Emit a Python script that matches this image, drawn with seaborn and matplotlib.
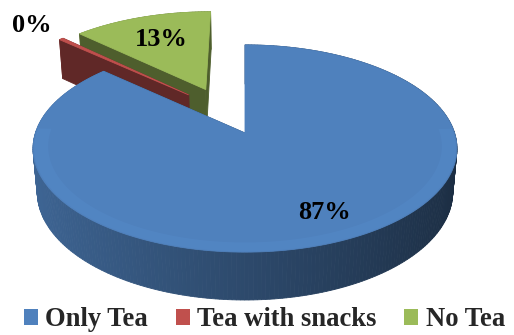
import numpy as np
import matplotlib
matplotlib.use("Agg")
import matplotlib.pyplot as plt
from matplotlib.patches import Polygon, Patch
from matplotlib.colors import to_rgb
import seaborn as sns

# ---- data ----
categories = ["Only Tea", "Tea with snacks", "No Tea"]
values = [86.7, 0.4, 12.9]          # percent
colors = ["#4F81BD", "#C0504D", "#9BBB59"]

# ---- style ----
sns.set_style("white")
plt.rcParams['font.family'] = ['Liberation Serif', 'DejaVu Serif']
palette = sns.color_palette(colors)

W, H = 514, 335
fig = plt.figure(figsize=(W / 100, H / 100), dpi=100)
ax = fig.add_axes([0, 0, 1, 1])
ax.set_xlim(0, W)
ax.set_ylim(H, 0)
ax.axis('off')

# ---- 3D pie projection parameters ----
elev = np.deg2rad(28.9)
se, ce = np.sin(elev), np.cos(elev)
Ldist = 5.85
kscale = 1226.0
cx, cy = 245.0, 133.0
explode = 0.25
depth_h = 0.24

total = float(sum(values))
fracs = [v / total for v in values]
starts, ends = [], []
a = 90.0
for f in fracs:
    starts.append(a)
    a -= 360.0 * f
    ends.append(a)
mids = [(s + e) / 2 for s, e in zip(starts, ends)]

# camera looks at the (exploded) centre of the largest slice
mb = np.deg2rad(mids[0])
look = np.array([explode * np.cos(mb), -explode * np.sin(mb)])


def proj(x, y, z):
    X = x - look[0]
    Z = z - look[1]
    dep = Ldist - y * se - Z * ce
    sx = cx + kscale * X / dep
    sy = cy - kscale * (y * ce - Z * se) / dep
    return sx, sy, dep


def pt(ox, oz, r, t_deg, y):
    t = np.deg2rad(t_deg)
    return ox + r * np.cos(t), y, oz - r * np.sin(t)


def shade(rgb, fac):
    return tuple(min(1, max(0, c * fac)) for c in rgb)


walls = []
tops = []
rims = []
for i, (s, e, m) in enumerate(zip(starts, ends, mids)):
    base = to_rgb(palette[i])
    mr = np.deg2rad(m)
    ox, oz = explode * np.cos(mr), -explode * np.sin(mr)
    # outer wall segments
    n = max(2, int(abs(s - e) / 1.0))
    ts = np.linspace(s, e, n + 1)
    for j in range(n):
        t0, t1 = ts[j], ts[j + 1]
        p = [pt(ox, oz, 1, t0, 0), pt(ox, oz, 1, t1, 0),
             pt(ox, oz, 1, t1, -depth_h), pt(ox, oz, 1, t0, -depth_h)]
        pp = [proj(*q) for q in p]
        tm = np.deg2rad((t0 + t1) / 2)
        fac = 0.57 - 0.22 * np.cos(tm)
        walls.append((np.mean([q[2] for q in pp]), [(q[0], q[1]) for q in pp], shade(base, fac)))
    # radial walls
    for ang in (s, e):
        p = [pt(ox, oz, 0, ang, 0), pt(ox, oz, 1, ang, 0),
             pt(ox, oz, 1, ang, -depth_h), pt(ox, oz, 0, ang, -depth_h)]
        pp = [proj(*q) for q in p]
        walls.append((np.mean([q[2] for q in pp]), [(q[0], q[1]) for q in pp], shade(base, 0.5)))
    # top
    tt = np.linspace(s, e, max(3, int(abs(s - e) / 0.5)) + 1)
    p = [pt(ox, oz, 0, s, 0)] + [pt(ox, oz, 1, t, 0) for t in tt]
    pp = [proj(*q) for q in p]
    tops.append((np.mean([q[2] for q in pp]), [(q[0], q[1]) for q in pp], base))
    # soft bevel highlight near the front rim
    front = [t for t in tt if np.sin(np.deg2rad(t)) < 0.05]
    if len(front) > 3 and fracs[i] > 0.5:
        band_out = [proj(*pt(ox, oz, 0.995, t, 0))[:2] for t in front]
        band_in = [proj(*pt(ox, oz, 0.93, t, 0))[:2] for t in front[::-1]]
        rims.append((band_out + band_in, tuple(min(1, c * 1.06) for c in base)))

for dep, poly, col in sorted(walls, key=lambda w: -w[0]):
    ax.add_patch(Polygon(poly, closed=True, facecolor=col, edgecolor=col, lw=0.6))
for dep, poly, col in sorted(tops, key=lambda w: -w[0]):
    ax.add_patch(Polygon(poly, closed=True, facecolor=col, edgecolor=col, lw=0.6))
for poly, col in rims:
    ax.add_patch(Polygon(poly, closed=True, facecolor=col, edgecolor='none', alpha=0.5))

# ---- data labels ----
for i, (v, m) in enumerate(zip(values, mids)):
    mr = np.deg2rad(m)
    ox, oz = explode * np.cos(mr), -explode * np.sin(mr)
    if fracs[i] < 0.02:
        r = 1.26
    elif fracs[i] > 0.5:
        r = 0.78
    else:
        r = 0.66
    lx, ly, _ = proj(*pt(ox, oz, r, m + (2 if fracs[i] > 0.5 else 0), 0))
    ax.text(lx, ly, f"{round(v)}%", ha='center', va='center',
            fontsize=19, fontweight='bold', color='black')

# ---- legend ----
handles = [Patch(facecolor=palette[i], edgecolor='none', label=c) for i, c in enumerate(categories)]
ax.legend(handles=handles, loc='lower center', bbox_to_anchor=(0.514, 0.0), ncol=3,
          frameon=False, prop={'weight': 'bold', 'size': 19.2},
          handlelength=0.53, handleheight=0.53, handletextpad=0.27,
          columnspacing=1.05, borderaxespad=0.0, borderpad=0.1)

fig.savefig("out.png", dpi=100)
